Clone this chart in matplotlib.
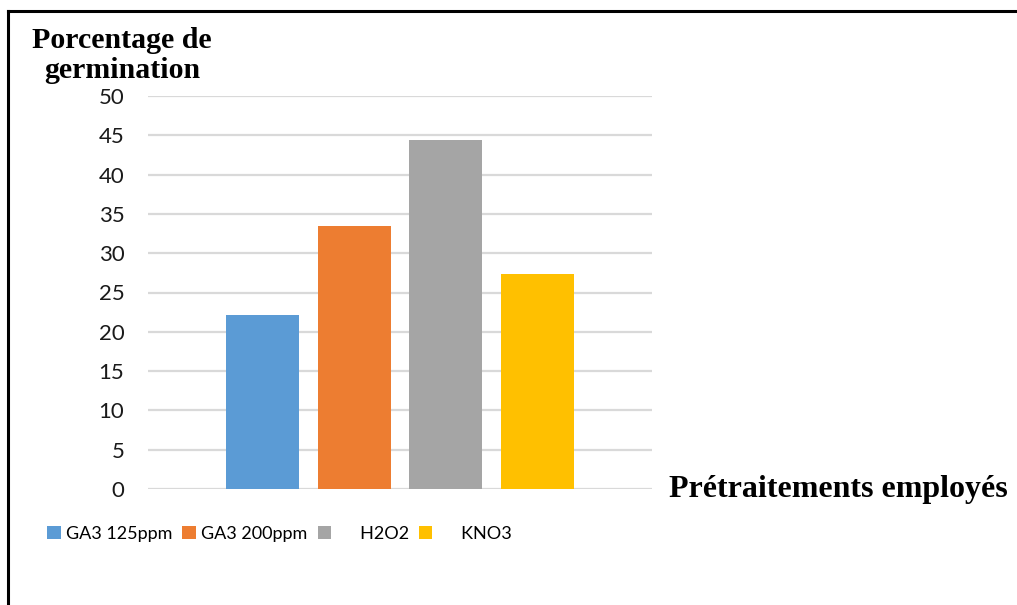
import matplotlib.pyplot as plt
from matplotlib.lines import Line2D

# germination rate for each pretreatment
treatments = ["GA3 125ppm", "GA3 200ppm", "H2O2", "KNO3"]
germination = [22.1, 33.4, 44.4, 27.3]
colors = ["#5b9bd5", "#ed7d31", "#a5a5a5", "#ffc000"]
legend_labels = ["GA3 125ppm", "GA3 200ppm", "     H2O2", "     KNO3"]

fig = plt.figure(figsize=(10.17, 6.05), dpi=100)
ax = fig.add_axes([148 / 1017, 1 - 489 / 605, 504 / 1017, 393 / 605])

# one category, four clustered bars
width = 0.145
step = 0.182
bars = []
for i, (val, c) in enumerate(zip(germination, colors)):
    b = ax.bar((i - 1.5) * step, val, width=width, color=c, zorder=3)
    bars.append(b)

ax.set_xlim(-0.5, 0.5)
ax.set_ylim(0, 50)
ax.set_yticks(range(0, 51, 5))
ax.set_xticks([])
ax.yaxis.grid(True, color="#d9d9d9", linewidth=1.6, zorder=0)
ax.set_axisbelow(True)
for s in ax.spines.values():
    s.set_visible(False)
ax.tick_params(axis="y", length=0, pad=17, labelsize=16)
for lbl in ax.get_yticklabels():
    lbl.set_fontfamily("Lato")
    lbl.set_color("#1a1a1a")

serif = dict(family="Liberation Serif", weight="bold")
fig.text(122 / 1017, 1 - 27 / 605, "Porcentage de\ngermination", ha="center", va="top",
         linespacing=1.15, fontsize=21.5, **serif)
fig.text(838 / 1017, 1 - 490 / 605, "Prétraitements employés", ha="center", va="center",
         fontsize=23, **serif)

leg = fig.legend([b[0] for b in bars], legend_labels, loc="center left",
                 bbox_to_anchor=(40 / 1017, 1 - 534 / 605), ncol=4, frameon=False,
                 prop={"family": "Lato", "size": 13}, handlelength=0.75, handleheight=0.75,
                 handletextpad=0.3, columnspacing=0.55, borderaxespad=0)

# partial frame around the figure
fig.add_artist(Line2D([8 / 1017, 1.0], [1 - 11 / 605, 1 - 11 / 605], color="black", lw=2.2,
                      transform=fig.transFigure))
fig.add_artist(Line2D([8 / 1017, 8 / 1017], [1 - 11 / 605, 0.0], color="black", lw=2.2,
                      transform=fig.transFigure))

fig.savefig("out.png", dpi=100)
